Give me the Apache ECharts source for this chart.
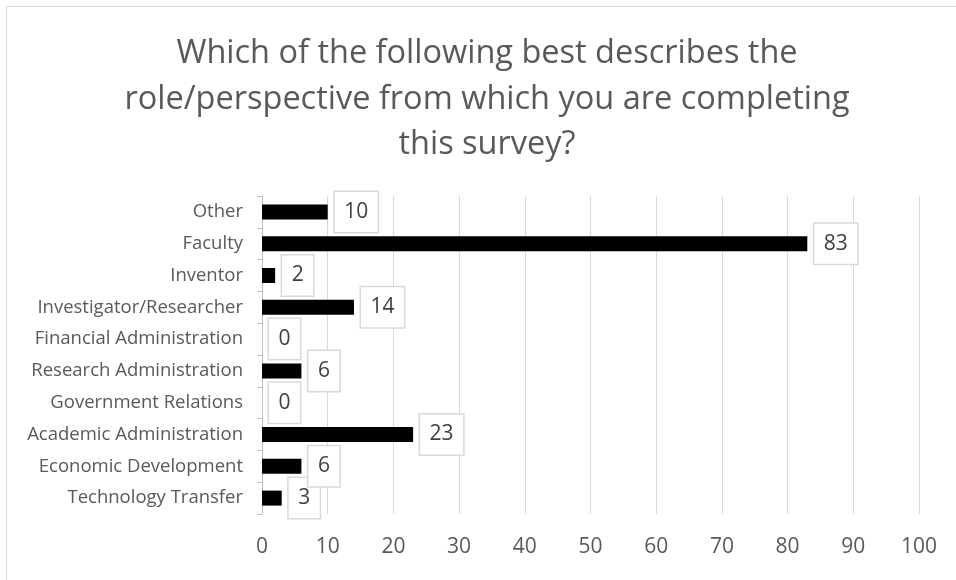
<!DOCTYPE html>
<html>
<head>
<meta charset="utf-8">
<script src="https://cdn.jsdelivr.net/npm/echarts@6/dist/echarts.min.js"></script>
<style>html,body{margin:0;padding:0;background:#fff}#c{width:956px;height:580px}</style>
</head>
<body>
<div id="c"></div>
<script>
const titleText = "Which of the following best describes the\nrole/perspective from which you are completing\nthis survey?";
const categories = ["Technology Transfer","Economic Development","Academic Administration","Government Relations","Research Administration","Financial Administration","Investigator/Researcher","Inventor","Faculty","Other"];
const values = [3, 6, 23, 0, 6, 0, 14, 2, 83, 10];
const xMin = 0, xMax = 100, xInterval = 10;

const FONT = "'Open Sans', sans-serif";
const chart = echarts.init(document.getElementById('c'), null, {renderer: 'canvas'});
chart.setOption({
  backgroundColor: '#fff',
  animation: false,
  graphic: [{
    type: 'rect', silent: true, z: -10,
    shape: {x: 6.5, y: 6.5, width: 1000, height: 700},
    style: {fill: '#fff', stroke: '#d9d9d9', lineWidth: 1}
  }],
  title: {
    text: titleText,
    left: 487, top: 31, padding: 0,
    textAlign: 'center',
    textStyle: {fontFamily: FONT, fontSize: 32.5, fontWeight: 'normal', color: '#595959', lineHeight: 45.5}
  },
  grid: {left: 262, right: 37, top: 196, bottom: 66, containLabel: false},
  xAxis: {
    type: 'value', min: xMin, max: xMax, interval: xInterval,
    axisLine: {show: false}, axisTick: {show: false},
    splitLine: {show: true, lineStyle: {color: '#d9d9d9', width: 1}},
    axisLabel: {fontFamily: FONT, fontSize: 21, color: '#595959', margin: 23}
  },
  yAxis: {
    type: 'category', data: categories,
    axisLine: {show: true, lineStyle: {color: '#bfbfbf', width: 1}},
    axisTick: {show: true, inside: false, length: 5, lineStyle: {color: '#bfbfbf'}},
    axisLabel: {fontFamily: FONT, fontSize: 18.5, color: '#595959', margin: 19}
  },
  series: [{
    type: 'bar', data: values, barWidth: 15,
    itemStyle: {color: '#000'},
    label: {
      show: true, position: 'right', distance: 7,
      fontFamily: FONT, fontSize: 21, color: '#404040', lineHeight: 22,
      backgroundColor: '#fff', borderColor: '#d9d9d9', borderWidth: 1.5,
      padding: [9, 9.5, 9, 9.5]
    }
  }]
});
</script>
</body>
</html>
